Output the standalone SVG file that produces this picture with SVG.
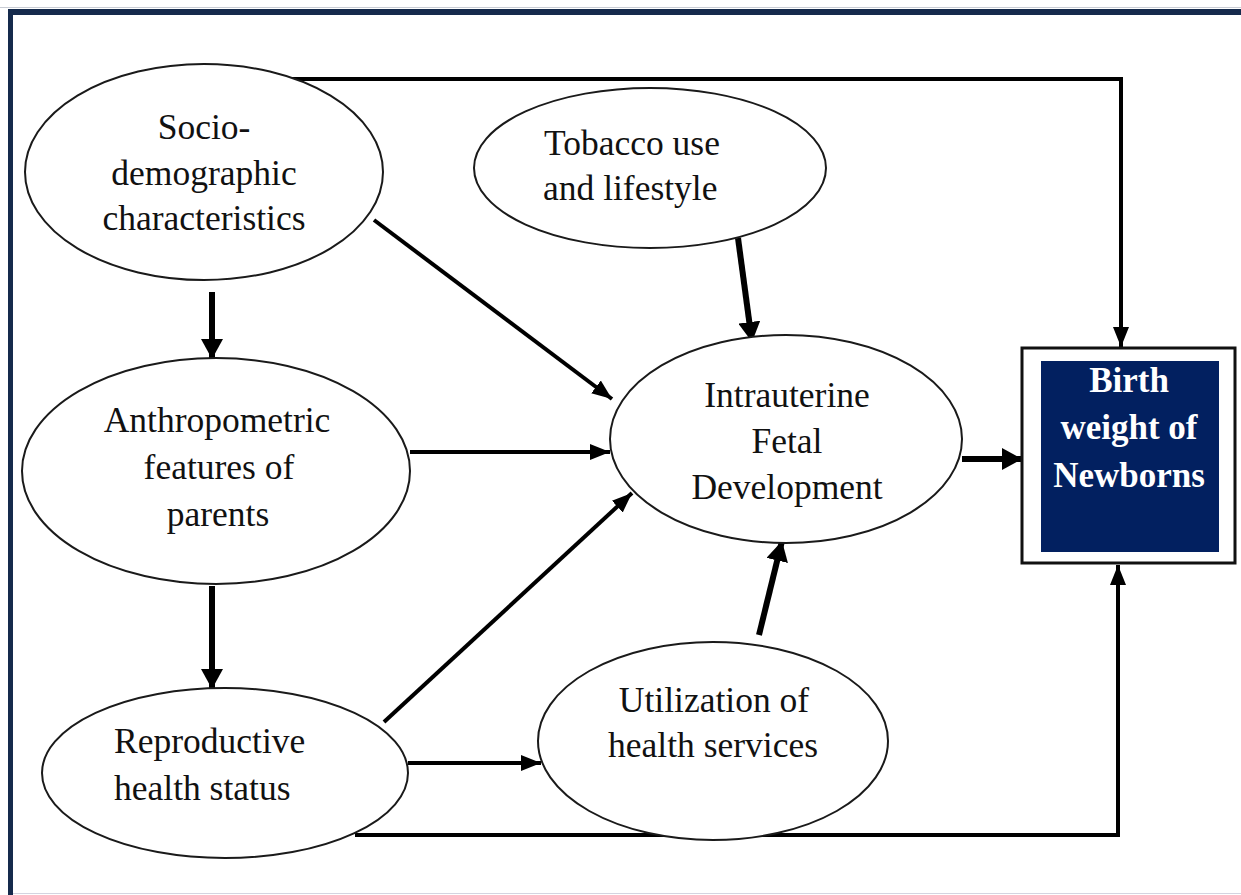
<svg xmlns="http://www.w3.org/2000/svg" width="1241" height="895" viewBox="0 0 1241 895">
<defs>
<style>
.node ellipse{fill:#fff;stroke:#1a1a1a;stroke-width:2}
.lbl{font-family:"Liberation Serif","Times New Roman",serif;font-size:35.5px;fill:#111}
.blbl{font-family:"Liberation Serif","Times New Roman",serif;font-size:35px;font-weight:bold;fill:#fff}
.c{fill:none;stroke:#000;stroke-width:4}
.ct{fill:none;stroke:#000;stroke-width:6}
</style>
<marker id="ah" markerUnits="userSpaceOnUse" markerWidth="20" markerHeight="20" viewBox="0 0 20 20" refX="20" refY="10" orient="auto">
<path d="M0,2 L20,10 L0,18 Z" fill="#000"/>
</marker>
<marker id="ahb" markerUnits="userSpaceOnUse" markerWidth="20" markerHeight="22" viewBox="0 0 20 22" refX="20" refY="11" orient="auto">
<path d="M0,0 L20,11 L0,22 Z" fill="#000"/>
</marker>
</defs>
<rect x="0" y="0" width="1241" height="895" fill="#fff"/>
<line x1="0" y1="7.5" x2="1241" y2="7.5" stroke="#c8ccd4" stroke-width="1"/>
<rect x="8" y="9" width="1233" height="6" fill="#152a4c"/>
<rect x="8" y="9" width="5" height="886" fill="#152a4c"/>
<line x1="13" y1="893.5" x2="1241" y2="893.5" stroke="#d4d4e0" stroke-width="1"/>

<g id="connectors">
<polyline class="c" points="288,79 1121,79 1121,347" marker-end="url(#ah)"/>
<polyline class="c" points="355,835 1118,835 1118,565" marker-end="url(#ah)"/>
<line class="ct" x1="212" y1="292" x2="212" y2="359" marker-end="url(#ahb)"/>
<line class="ct" x1="212" y1="586" x2="212" y2="689" marker-end="url(#ahb)"/>
<line class="c" x1="374" y1="220" x2="612" y2="399" marker-end="url(#ah)"/>
<line class="c" x1="410" y1="452" x2="610" y2="452" marker-end="url(#ah)"/>
<line class="c" x1="384" y1="722" x2="632" y2="493" marker-end="url(#ah)"/>
<line class="c" x1="408" y1="763" x2="541" y2="763" marker-end="url(#ah)"/>
<line class="ct" x1="738" y1="238" x2="752" y2="342" marker-end="url(#ahb)"/>
<line class="ct" x1="759" y1="635" x2="782" y2="541" marker-end="url(#ahb)"/>
<line class="ct" x1="962" y1="459" x2="1022" y2="459" marker-end="url(#ahb)"/>
</g>

<g id="socio" class="node">
<ellipse cx="204" cy="172" rx="179" ry="108"/>
<text class="lbl" text-anchor="middle"><tspan x="204" y="139">Socio-</tspan><tspan x="204" y="185">demographic</tspan><tspan x="204" y="230">characteristics</tspan></text>
</g>

<g id="tobacco" class="node">
<ellipse cx="650" cy="168" rx="176" ry="80"/>
<text class="lbl"><tspan x="544" y="155">Tobacco use</tspan><tspan x="543" y="200">and lifestyle</tspan></text>
</g>

<g id="anthropometric" class="node">
<ellipse cx="216" cy="471" rx="194" ry="113"/>
<text class="lbl" text-anchor="middle"><tspan x="217" y="432">Anthropometric</tspan><tspan x="219" y="479">features of</tspan><tspan x="218" y="526">parents</tspan></text>
</g>

<g id="intrauterine" class="node">
<ellipse cx="786" cy="439" rx="176" ry="104"/>
<text class="lbl" text-anchor="middle"><tspan x="787" y="407">Intrauterine</tspan><tspan x="787" y="453">Fetal</tspan><tspan x="787" y="499">Development</tspan></text>
</g>

<g id="reproductive" class="node">
<ellipse cx="225" cy="773" rx="183" ry="85"/>
<text class="lbl"><tspan x="114" y="753">Reproductive</tspan><tspan x="114" y="800">health status</tspan></text>
</g>

<g id="utilization" class="node">
<ellipse cx="713" cy="741" rx="175" ry="99"/>
<text class="lbl" text-anchor="middle"><tspan x="714" y="712">Utilization of</tspan><tspan x="713" y="757">health services</tspan></text>
</g>

<g id="birthweight">
<rect x="1022" y="348" width="213" height="215" fill="#fff" stroke="#111" stroke-width="3"/>
<rect x="1041" y="361" width="178" height="191" fill="#022060"/>
<text class="blbl" text-anchor="middle"><tspan x="1129" y="392">Birth</tspan><tspan x="1129" y="439">weight of</tspan><tspan x="1129" y="487">Newborns</tspan></text>
</g>
</svg>
